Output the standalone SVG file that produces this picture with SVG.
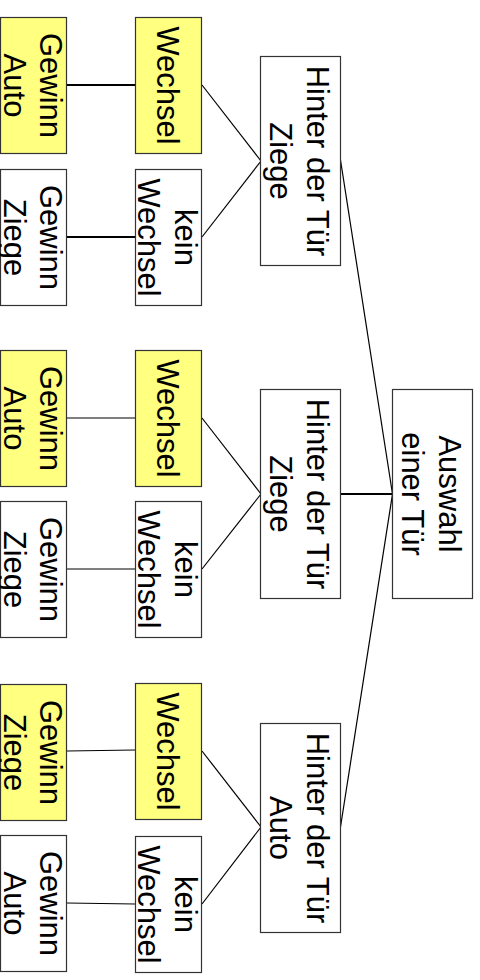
<svg xmlns="http://www.w3.org/2000/svg" width="480" height="980" viewBox="0 0 480 980">
<style>
.box{fill:#ffffff;stroke:#333333;stroke-width:1.2}
.hl{fill:#ffff80}
.t{font-family:"Liberation Sans",Arial,sans-serif;font-size:31px;fill:#000000;text-anchor:middle}
.c{stroke:#000000;stroke-width:1.2;fill:none}
.c2{stroke:#000000;stroke-width:2;fill:none}
</style>
<rect width="480" height="980" fill="#ffffff"/>
<g id="connectors">
<line class="c2" x1="67" y1="85" x2="135" y2="85"/>
<line class="c2" x1="67" y1="237" x2="135" y2="237"/>
<line class="c" x1="67" y1="418" x2="135" y2="418"/>
<line class="c" x1="67" y1="569" x2="135" y2="569"/>
<line class="c" x1="67" y1="751" x2="135" y2="750"/>
<line class="c" x1="67" y1="903" x2="135" y2="904"/>
<line class="c" x1="202" y1="85" x2="261" y2="161"/>
<line class="c" x1="202" y1="237" x2="261" y2="161"/>
<line class="c" x1="202" y1="418" x2="261" y2="494"/>
<line class="c" x1="202" y1="569" x2="261" y2="494"/>
<line class="c" x1="202" y1="751" x2="261" y2="827"/>
<line class="c" x1="202" y1="904" x2="261" y2="827"/>
<line class="c" x1="340.5" y1="160" x2="392.5" y2="494"/>
<line class="c2" x1="340.5" y1="494" x2="392.5" y2="494"/>
<line class="c" x1="340.5" y1="827" x2="392.5" y2="494"/>
</g>
<g id="auswahl">
<rect class="box" x="392.5" y="389.5" width="80" height="209"/>
<text class="t" transform="translate(432.5,494) rotate(90)"><tspan x="0" y="-6">Auswahl</tspan><tspan x="0" y="31">einer Tür</tspan></text>
</g>
<g id="hinter1">
<rect class="box" x="260.5" y="56.5" width="80" height="209"/>
<text class="t" transform="translate(300.5,161) rotate(90)"><tspan x="0" y="-6">Hinter der Tür</tspan><tspan x="0" y="31">Ziege</tspan></text>
</g>
<g id="hinter2">
<rect class="box" x="260.5" y="389.5" width="80" height="209"/>
<text class="t" transform="translate(300.5,494) rotate(90)"><tspan x="0" y="-6">Hinter der Tür</tspan><tspan x="0" y="31">Ziege</tspan></text>
</g>
<g id="hinter3">
<rect class="box" x="260.5" y="723.5" width="80" height="209"/>
<text class="t" transform="translate(300.5,828) rotate(90)"><tspan x="0" y="-6">Hinter der Tür</tspan><tspan x="0" y="31">Auto</tspan></text>
</g>
<g id="wechsel1">
<rect class="box hl" x="135.5" y="17.5" width="66" height="136"/>
<text class="t" transform="translate(168.5,85.5) rotate(90)"><tspan x="0" y="12">Wechsel</tspan></text>
</g>
<g id="keinwechsel1">
<rect class="box" x="135.5" y="169.5" width="66" height="136"/>
<text class="t" transform="translate(168.5,237.5) rotate(90)"><tspan x="0" y="-6">kein</tspan><tspan x="0" y="31">Wechsel</tspan></text>
</g>
<g id="gewinn1a">
<rect class="box hl" x="0.5" y="17.5" width="66" height="136"/>
<text class="t" transform="translate(33.5,85.5) rotate(90)"><tspan x="0" y="-6.5">Gewinn</tspan><tspan x="0" y="29.5">Auto</tspan></text>
</g>
<g id="gewinn1b">
<rect class="box" x="0.5" y="169.5" width="66" height="136"/>
<text class="t" transform="translate(33.5,237.5) rotate(90)"><tspan x="0" y="-6.5">Gewinn</tspan><tspan x="0" y="29.5">Ziege</tspan></text>
</g>
<g id="wechsel2">
<rect class="box hl" x="135.5" y="350.5" width="66" height="136"/>
<text class="t" transform="translate(168.5,418.5) rotate(90)"><tspan x="0" y="12">Wechsel</tspan></text>
</g>
<g id="keinwechsel2">
<rect class="box" x="135.5" y="501.5" width="66" height="136"/>
<text class="t" transform="translate(168.5,569.5) rotate(90)"><tspan x="0" y="-6">kein</tspan><tspan x="0" y="31">Wechsel</tspan></text>
</g>
<g id="gewinn2a">
<rect class="box hl" x="0.5" y="350.5" width="66" height="136"/>
<text class="t" transform="translate(33.5,418.5) rotate(90)"><tspan x="0" y="-6.5">Gewinn</tspan><tspan x="0" y="29.5">Auto</tspan></text>
</g>
<g id="gewinn2b">
<rect class="box" x="0.5" y="501.5" width="66" height="136"/>
<text class="t" transform="translate(33.5,569.5) rotate(90)"><tspan x="0" y="-6.5">Gewinn</tspan><tspan x="0" y="29.5">Ziege</tspan></text>
</g>
<g id="wechsel3">
<rect class="box hl" x="135.5" y="683.5" width="66" height="136"/>
<text class="t" transform="translate(168.5,751.5) rotate(90)"><tspan x="0" y="12">Wechsel</tspan></text>
</g>
<g id="keinwechsel3">
<rect class="box" x="135.5" y="836.5" width="66" height="136"/>
<text class="t" transform="translate(168.5,904.5) rotate(90)"><tspan x="0" y="-6">kein</tspan><tspan x="0" y="31">Wechsel</tspan></text>
</g>
<g id="gewinn3a">
<rect class="box hl" x="0.5" y="684.5" width="66" height="136"/>
<text class="t" transform="translate(33.5,752.5) rotate(90)"><tspan x="0" y="-6.5">Gewinn</tspan><tspan x="0" y="29.5">Ziege</tspan></text>
</g>
<g id="gewinn3b">
<rect class="box" x="0.5" y="835.5" width="66" height="136"/>
<text class="t" transform="translate(33.5,903.5) rotate(90)"><tspan x="0" y="-6.5">Gewinn</tspan><tspan x="0" y="29.5">Auto</tspan></text>
</g>
</svg>
